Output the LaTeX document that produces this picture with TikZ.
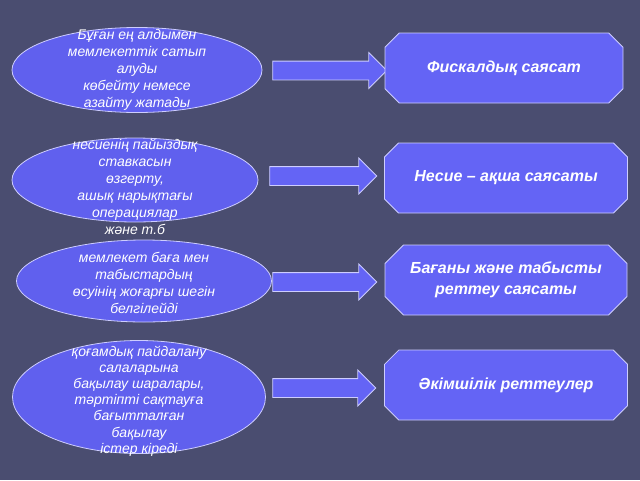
\documentclass[tikz,border=0pt]{standalone}
\usepackage{fontspec}
\setmainfont{Liberation Sans}
\usetikzlibrary{shapes.geometric,shapes.misc,shapes.arrows}
\definecolor{slide}{RGB}{74,77,112}
\definecolor{blobfill}{RGB}{96,96,238}
\definecolor{boxfill}{RGB}{100,100,245}
\definecolor{rim}{RGB}{205,205,255}

\begin{document}
\begin{tikzpicture}[
        x=1pt,y=-1pt,
        every node/.style={text=white},
        oval/.style={ellipse,draw=rim,line width=0.8pt,fill=blobfill,inner sep=0pt},
        ovaltext/.style={align=center,inner sep=0pt,font=\fontsize{14}{17}\selectfont\itshape},
        policy/.style={chamfered rectangle,chamfered rectangle xsep=15pt,
          draw=rim,line width=0.8pt,fill=boxfill,minimum height=70pt,
          align=center,font=\fontsize{16}{21}\selectfont\bfseries\itshape},
        fatarrow/.style={single arrow,draw=rim,line width=0.8pt,fill=boxfill,
          inner xsep=0pt,inner ysep=9pt,single arrow head extend=8.5pt},
      ]
      \fill[slide] (0,0) rectangle (640,480);
      % left side: what each policy does
      \node[oval,minimum width=250pt,minimum height=85pt] (e1) at (137,70) {};
      \node[oval,minimum width=246pt,minimum height=84pt] (e2) at (135,180) {};
      \node[oval,minimum width=255pt,minimum height=82pt] (e3) at (144,281) {};
      \node[oval,minimum width=253pt,minimum height=113pt] (e4) at (139,397) {};
      \node[ovaltext] (t1) at (e1.center) {Бұған ең алдымен\\мемлекеттік сатып\\алуды\\көбейту немесе\\азайту жатады};
      \node[ovaltext,yshift=-7pt] (t2) at (e2.center) {несиенің пайыздық\\ставкасын\\өзгерту,\\ашық нарықтағы\\операциялар\\және т.б};
      \node[ovaltext,yshift=-2pt] (t3) at (e3.center) {мемлекет баға мен\\табыстардың\\өсуінің жоғарғы шегін\\белгілейді};
      \node[ovaltext,yshift=-4pt,font=\fontsize{14}{16.2}\selectfont\itshape] (t4) at (e4.center) {қоғамдық пайдалану\\салаларына\\бақылау шаралары,\\тәртіпті сақтауға\\бағытталған\\бақылау\\істер кіреді};
      % arrows
      \node[fatarrow,minimum height=114pt] (a1) at (325,70.5) {};
      \node[fatarrow,minimum height=107pt] (a2) at (318.5,176) {};
      \node[fatarrow,minimum height=104pt] (a3) at (320,282) {};
      \node[fatarrow,minimum height=103pt] (a4) at (319.5,388) {};
      % right side: policy names
      \node[policy,minimum width=238pt] (b1) at (504,68) {Фискалдық саясат};
      \node[policy,minimum width=243pt] (b2) at (506,178) {Несие – ақша саясаты};
      \node[policy,minimum width=242pt] (b3) at (506,280) {Бағаны және табысты\\реттеу саясаты};
      \node[policy,minimum width=243pt] (b4) at (506,385) {Әкімшілік реттеулер};
\end{tikzpicture}
\end{document}
